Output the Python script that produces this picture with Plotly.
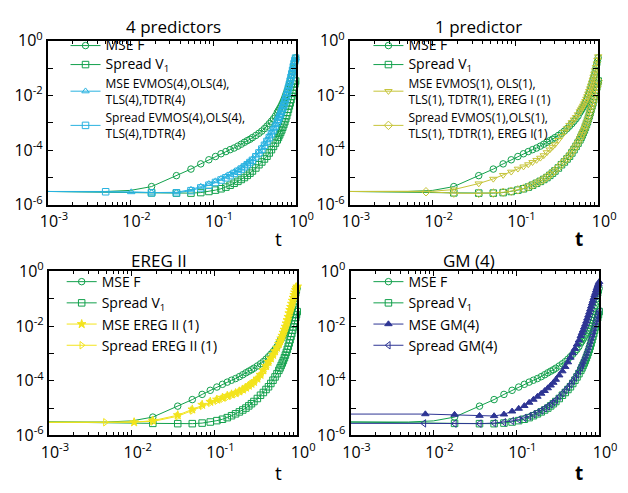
import plotly.graph_objects as go

# ---------------- data (log10 of the plotted quantity) ----------------
T_GRID = [0.018, 0.036, 0.054, 0.071, 0.089, 0.107, 0.125, 0.143, 0.161, 0.18,
          0.2, 0.22, 0.24, 0.26, 0.28, 0.3, 0.33, 0.36, 0.39, 0.42,
          0.45, 0.48, 0.51, 0.54, 0.57, 0.6, 0.62, 0.64, 0.66, 0.68,
          0.7, 0.72, 0.74, 0.76, 0.78, 0.8, 0.82, 0.84, 0.86, 0.88,
          0.9, 0.92, 0.94, 0.96, 0.98, 1.0]

MSE_F = [-5.33, -4.93, -4.69, -4.50, -4.35, -4.23, -4.13, -4.05, -3.98, -3.92,
         -3.85, -3.78, -3.71, -3.65, -3.60, -3.54, -3.46, -3.38, -3.30, -3.21,
         -3.12, -3.03, -2.94, -2.85, -2.75, -2.62, -2.55, -2.48, -2.41, -2.33,
         -2.25, -2.16, -2.07, -1.97, -1.88, -1.78, -1.68, -1.57, -1.46, -1.35,
         -1.24, -1.12, -1.00, -0.87, -0.75, -0.62]
SPREAD_V1 = [-5.56, -5.57, -5.57, -5.55, -5.51, -5.46, -5.41, -5.35, -5.28, -5.21,
             -5.14, -5.07, -5.00, -4.92, -4.84, -4.76, -4.65, -4.53, -4.43, -4.32,
             -4.22, -4.10, -3.98, -3.86, -3.74, -3.62, -3.53, -3.44, -3.35, -3.26,
             -3.16, -3.06, -2.96, -2.85, -2.74, -2.62, -2.50, -2.38, -2.27, -2.15,
             -2.03, -1.92, -1.80, -1.69, -1.58, -1.47]
MSE_4 = [-5.55, -5.54, -5.44, -5.33, -5.23, -5.13, -5.04, -4.96, -4.88, -4.80,
         -4.72, -4.64, -4.56, -4.48, -4.40, -4.32, -4.19, -4.05, -3.91, -3.77,
         -3.63, -3.49, -3.35, -3.21, -3.07, -2.93, -2.83, -2.73, -2.63, -2.52,
         -2.41, -2.30, -2.18, -2.06, -1.94, -1.82, -1.69, -1.57, -1.44, -1.31,
         -1.18, -1.05, -0.92, -0.80, -0.70, -0.62]
SPREAD_4 = [-5.56, -5.56, -5.48, -5.38, -5.28, -5.18, -5.09, -5.01, -4.93, -4.85,
            -4.77, -4.69, -4.61, -4.53, -4.45, -4.37, -4.24, -4.10, -3.96, -3.82,
            -3.68, -3.54, -3.40, -3.26, -3.12, -2.98, -2.88, -2.78, -2.68, -2.57,
            -2.46, -2.35, -2.23, -2.11, -1.99, -1.86, -1.73, -1.60, -1.47, -1.34,
            -1.21, -1.08, -0.95, -0.83, -0.72, -0.63]
MSE_1 = [-5.44, -5.22, -5.05, -4.91, -4.79, -4.68, -4.60, -4.52, -4.44, -4.36,
         -4.28, -4.19, -4.08, -3.98, -3.88, -3.79, -3.63, -3.48, -3.33, -3.20,
         -3.08, -2.98, -2.88, -2.79, -2.69, -2.58, -2.51, -2.44, -2.37, -2.29,
         -2.21, -2.12, -2.03, -1.93, -1.84, -1.74, -1.64, -1.53, -1.42, -1.31,
         -1.20, -1.08, -0.96, -0.83, -0.70, -0.57]
SPREAD_1 = [-5.57, -5.58, -5.57, -5.54, -5.50, -5.45, -5.40, -5.34, -5.27, -5.20,
            -5.13, -5.06, -4.98, -4.90, -4.82, -4.74, -4.63, -4.51, -4.41, -4.30,
            -4.19, -4.07, -3.95, -3.83, -3.71, -3.58, -3.49, -3.40, -3.31, -3.22,
            -3.12, -3.02, -2.92, -2.81, -2.70, -2.58, -2.47, -2.35, -2.24, -2.12,
            -2.01, -1.90, -1.79, -1.68, -1.57, -1.46]
MSE_E2 = [-5.46, -5.26, -5.05, -4.88, -4.77, -4.69, -4.62, -4.55, -4.50, -4.45,
          -4.39, -4.32, -4.25, -4.18, -4.11, -4.04, -3.92, -3.78, -3.62, -3.46,
          -3.31, -3.18, -3.05, -2.92, -2.79, -2.65, -2.55, -2.45, -2.35, -2.24,
          -2.13, -2.02, -1.90, -1.78, -1.66, -1.53, -1.41, -1.30, -1.18, -1.07,
          -0.96, -0.86, -0.77, -0.68, -0.61, -0.55]
SPREAD_E2 = [-5.49, -5.30, -5.09, -4.92, -4.81, -4.73, -4.66, -4.60, -4.54, -4.49,
             -4.43, -4.36, -4.29, -4.22, -4.15, -4.08, -3.96, -3.82, -3.67, -3.51,
             -3.36, -3.22, -3.09, -2.96, -2.83, -2.69, -2.59, -2.49, -2.39, -2.28,
             -2.17, -2.06, -1.94, -1.82, -1.70, -1.57, -1.45, -1.33, -1.21, -1.10,
             -0.99, -0.88, -0.79, -0.70, -0.63, -0.56]
MSE_GM = [-5.24, -5.28, -5.29, -5.23, -5.12, -5.02, -4.92, -4.80, -4.69, -4.58,
          -4.47, -4.37, -4.27, -4.17, -4.07, -3.96, -3.80, -3.65, -3.49, -3.32,
          -3.15, -2.99, -2.83, -2.67, -2.52, -2.36, -2.25, -2.15, -2.04, -1.94,
          -1.83, -1.72, -1.61, -1.50, -1.39, -1.28, -1.17, -1.07, -0.97, -0.87,
          -0.78, -0.69, -0.60, -0.52, -0.45, -0.38]
SPREAD_GM = [-5.57, -5.57, -5.55, -5.52, -5.47, -5.42, -5.36, -5.30, -5.23, -5.16,
             -5.09, -5.01, -4.94, -4.86, -4.78, -4.70, -4.58, -4.46, -4.35, -4.24,
             -4.13, -4.01, -3.89, -3.77, -3.64, -3.51, -3.42, -3.33, -3.24, -3.14,
             -3.04, -2.94, -2.84, -2.73, -2.62, -2.50, -2.39, -2.27, -2.16, -2.04,
             -1.93, -1.82, -1.72, -1.62, -1.53, -1.45]

# early part of each curve: line-only points, and extra early markers
PRE_T = {"MSE_F": [0.001, 0.005, 0.01], "SPREAD_V1": [0.001, 0.01],
         "MSE_4": [0.001], "SPREAD_4": [0.001], "MSE_1": [0.001, 0.01],
         "SPREAD_1": [0.001], "MSE_E2": [0.001], "SPREAD_E2": [0.001],
         "MSE_GM": [0.001], "SPREAD_GM": [0.001]}
PRE_Y = {"MSE_F": [-5.51, -5.51, -5.47], "SPREAD_V1": [-5.51, -5.54],
         "MSE_4": [-5.51], "SPREAD_4": [-5.51], "MSE_1": [-5.51, -5.50],
         "SPREAD_1": [-5.51], "MSE_E2": [-5.52], "SPREAD_E2": [-5.52],
         "MSE_GM": [-5.22], "SPREAD_GM": [-5.56]}
LEAD_T = {"MSE_4": [0.0102], "SPREAD_4": [0.005], "SPREAD_1": [0.0083],
          "MSE_E2": [0.0107], "SPREAD_E2": [0.0048], "MSE_GM": [0.008],
          "SPREAD_GM": [0.0077]}
LEAD_Y = {"MSE_4": [-5.53], "SPREAD_4": [-5.52], "SPREAD_1": [-5.52],
          "MSE_E2": [-5.52], "SPREAD_E2": [-5.52], "MSE_GM": [-5.22],
          "SPREAD_GM": [-5.56]}
SERIES = {"MSE_F": MSE_F, "SPREAD_V1": SPREAD_V1, "MSE_4": MSE_4, "SPREAD_4": SPREAD_4,
          "MSE_1": MSE_1, "SPREAD_1": SPREAD_1, "MSE_E2": MSE_E2, "SPREAD_E2": SPREAD_E2,
          "MSE_GM": MSE_GM, "SPREAD_GM": SPREAD_GM}

PANEL_TITLES = ["4 predictors", "1 predictor", "EREG II", "GM (4)"]
X_TICKS = [1e-3, 1e-2, 1e-1, 1e0]
X_TICKTEXT = ["10<sup>-3</sup>", "10<sup>-2</sup>", "10<sup>-1</sup>", "10<sup>0</sup>"]
Y_TICKS = [1e-6, 1e-5, 1e-4, 1e-3, 1e-2, 1e-1, 1e0]
Y_TICKTEXT = ["10<sup>-6</sup>", "", "10<sup>-4</sup>", "", "10<sup>-2</sup>", "", "10<sup>0</sup>"]

# ---------------- styles ----------------
GREEN = "#12a04c"
CYAN = "#29b2e0"
OLIVE = "#c6c438"
YELLOW = "#f3e41c"
BLUE = "#2e3594"
FONT = "Open Sans"

BIG = "<span style='font-size:14px'>{}</span>"
PANELS = [
    [("MSE_F", BIG.format("MSE F"), GREEN, "circle-open"),
     ("SPREAD_V1", BIG.format("Spread V<sub>1</sub>"), GREEN, "square-open"),
     ("MSE_4", "MSE EVMOS(4),OLS(4),<br>TLS(4),TDTR(4)", CYAN, "triangle-up-open"),
     ("SPREAD_4", "Spread EVMOS(4),OLS(4),<br>TLS(4),TDTR(4)", CYAN, "square-open")],
    [("MSE_F", BIG.format("MSE F"), GREEN, "circle-open"),
     ("SPREAD_V1", BIG.format("Spread V<sub>1</sub>"), GREEN, "square-open"),
     ("MSE_1", "MSE EVMOS(1), OLS(1),<br>TLS(1), TDTR(1), EREG I (1)", OLIVE, "triangle-down-open"),
     ("SPREAD_1", "Spread EVMOS(1),OLS(1),<br>TLS(1), TDTR(1), EREG I(1)", OLIVE, "diamond-open")],
    [("MSE_F", "MSE F", GREEN, "circle-open"),
     ("SPREAD_V1", "Spread V<sub>1</sub>", GREEN, "square-open"),
     ("MSE_E2", "MSE EREG II (1)", YELLOW, "star"),
     ("SPREAD_E2", "Spread EREG II (1)", YELLOW, "triangle-right-open")],
    [("MSE_F", "MSE F", GREEN, "circle-open"),
     ("SPREAD_V1", "Spread V<sub>1</sub>", GREEN, "square-open"),
     ("MSE_GM", "MSE GM(4)", BLUE, "triangle-up"),
     ("SPREAD_GM", "Spread GM(4)", BLUE, "triangle-left-open")],
]

W, H = 628, 493
# plot frames in pixels: (left, right, top, bottom)
FRAMES = [(41.7, 300.0, 29.3, 201.7), (356.7, 615.7, 29.3, 201.7),
          (42.7, 301.7, 271.7, 444.0), (357.3, 616.7, 271.7, 444.0)]
LEGEND_POS = [(60, 19, 12), (376, 19, 12), (56, 266, 14), (376, 266, 14)]
TITLE_POS = [(173, 14), (491, 14), (157, 260), (481, 260)]
T_POS = [(282, 238, False), (596, 238, True), (282, 484, False), (596, 484, True)]

MINOR_X = [k * 10.0 ** e for e in (-3, -2, -1) for k in range(2, 10)]

fig = go.Figure()
layout = dict(width=W, height=H, margin=dict(l=0, r=0, t=0, b=0),
              paper_bgcolor="white", plot_bgcolor="white",
              font=dict(family=FONT, color="black"), showlegend=True)
annotations = []

for p, items in enumerate(PANELS):
    sfx = "" if p == 0 else str(p + 1)
    xa, ya = "x" + sfx, "y" + sfx
    leg = "legend" + sfx
    for key, name, color, symbol in items:
        vals = SERIES[key]
        lt = LEAD_T.get(key, [])
        ly = LEAD_Y.get(key, [])
        mx = lt + T_GRID
        my = [10 ** v for v in ly + vals]
        # line-only start of the curve
        fig.add_trace(go.Scatter(
            x=PRE_T[key] + [mx[0]], y=[10 ** v for v in PRE_Y[key]] + [my[0]],
            mode="lines", line=dict(color=color, width=1), showlegend=False,
            xaxis=xa, yaxis=ya, hoverinfo="skip"))
        fig.add_trace(go.Scatter(
            x=mx, y=my, mode="lines+markers", name=name,
            line=dict(color=color, width=1),
            marker=dict(symbol=symbol, size=6.5, color=color,
                        line=dict(color=color, width=1)),
            xaxis=xa, yaxis=ya, legend=leg, cliponaxis=False))
    l, r, t, b = FRAMES[p]
    common = dict(showline=True, linecolor="black", linewidth=2, mirror="ticks",
                  ticks="inside", ticklen=5, tickwidth=1.2, tickcolor="black",
                  showgrid=False, zeroline=False, type="log",
                  tickfont=dict(family=FONT, size=16, color="black"))
    layout["xaxis" + sfx] = dict(
        common, domain=[l / W, r / W], range=[-3, 0], anchor=ya,
        tickmode="array", tickvals=X_TICKS, ticktext=X_TICKTEXT,
        ticklabelshift=6, ticklabelstandoff=1,
        minor=dict(tickmode="array", tickvals=MINOR_X, ticks="inside",
                   ticklen=3, tickcolor="black", showgrid=False))
    layout["yaxis" + sfx] = dict(
        common, domain=[1 - b / H, 1 - t / H], range=[-6, 0], anchor=xa,
        tickmode="array", tickvals=Y_TICKS, ticktext=Y_TICKTEXT)
    lx, lyy, fs = LEGEND_POS[p]
    layout[leg] = dict(x=lx / W, y=1 - lyy / H, xanchor="left", yanchor="top",
                       bgcolor="rgba(0,0,0,0)", font=dict(family=FONT, size=fs, color="black"),
                       itemwidth=30, tracegroupgap=0)
    tx, ty = TITLE_POS[p]
    annotations.append(dict(text=PANEL_TITLES[p], x=tx / W, y=1 - ty / H,
                            xref="paper", yref="paper", showarrow=False,
                            xanchor="center", yanchor="middle",
                            font=dict(family=FONT, size=17, color="black")))
    sx, sy, bold = T_POS[p]
    annotations.append(dict(text="<b>t</b>" if bold else "t", x=sx / W, y=1 - sy / H,
                            xref="paper", yref="paper", showarrow=False,
                            xanchor="center", yanchor="middle",
                            font=dict(family=FONT, size=19, color="black")))

layout["annotations"] = annotations
fig.update_layout(**layout)
fig.write_html("out.html", config={"displayModeBar": False},
               post_script="document.body.style.margin='0px';document.body.style.padding='0px';")
